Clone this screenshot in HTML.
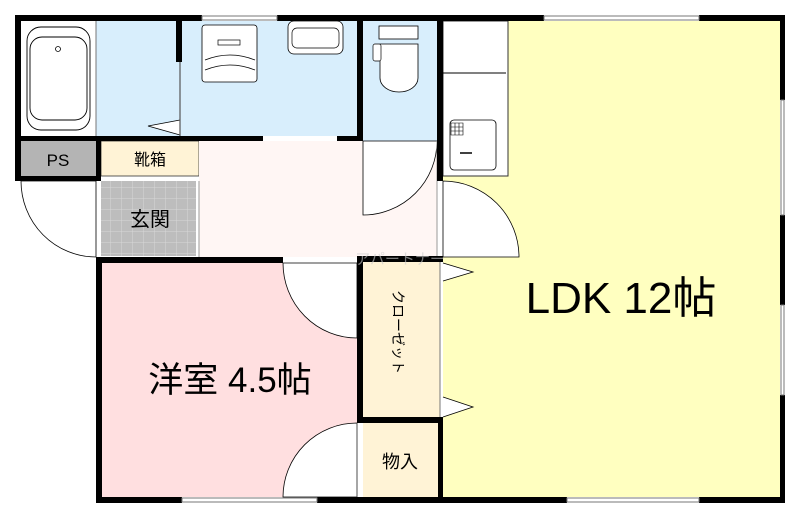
<!DOCTYPE html>
<html><head><meta charset="utf-8"><style>
html,body{margin:0;padding:0;background:#fff;width:800px;height:519px;overflow:hidden}
svg{display:block}
text{font-family:"Liberation Sans","Noto Sans CJK JP",sans-serif;fill:#000}
</style></head><body>
<svg width="800" height="519" viewBox="0 0 800 519" xmlns="http://www.w3.org/2000/svg">
<defs>
<pattern id="tile" width="11" height="11" patternUnits="userSpaceOnUse">
<rect width="11" height="11" fill="#bdbdbd"/><path d="M0 0H11M0 0V11" stroke="#d8d8d8" stroke-width="1"/>
</pattern>
</defs>
<rect x="21" y="21" width="75" height="115" fill="#fff"/>
<rect x="96" y="21" width="262" height="115" fill="#d8eefc"/>
<rect x="363" y="21" width="74" height="120" fill="#d8eefc"/>
<rect x="443" y="21" width="337" height="476" fill="#ffffc0"/>
<rect x="443" y="21" width="65" height="155" fill="#fff" stroke="#333" stroke-width="1"/>
<line x1="443" y1="73" x2="506" y2="73" stroke="#000" stroke-width="1"/>
<rect x="21" y="141" width="75" height="35" fill="#b4b4b4"/>
<rect x="101" y="141" width="98" height="35" fill="#fff3d6" stroke="#333" stroke-width="0.8"/>
<rect x="101" y="181" width="95" height="75" fill="url(#tile)"/>
<rect x="199" y="141" width="238" height="116" fill="#fff6f4"/>
<rect x="102" y="263" width="255" height="234" fill="#ffdfe0"/>
<rect x="363" y="262" width="77" height="155" fill="#fff3d6"/>
<rect x="363" y="423" width="75" height="74" fill="#fff3d6"/>
<path d="M21 181 A75 76 0 0 0 96 257 L96 181 Z" fill="#fff" stroke="#000" stroke-width="0.8"/>
<path d="M363 141 L363 215 A74 74 0 0 0 437 141 Z" fill="#fff" stroke="#000" stroke-width="0.8"/>
<path d="M443 181 A76 76 0 0 1 519 257 L443 257 Z" fill="#fff" stroke="#000" stroke-width="0.8"/>
<path d="M283 263 A74 75 0 0 0 357 338 L357 263 Z" fill="#fff" stroke="#000" stroke-width="0.8"/>
<path d="M283 497 A74 74 0 0 1 357 423 L357 497 Z" fill="#fff" stroke="#000" stroke-width="0.8"/>
<line x1="357" y1="423" x2="357" y2="497" stroke="#555" stroke-width="0.8"/>
<line x1="440" y1="262" x2="440" y2="417" stroke="#777" stroke-width="1"/>
<line x1="96" y1="136" x2="96" y2="21" stroke="#777" stroke-width="1"/>
<line x1="437" y1="141" x2="437" y2="257" stroke="#999" stroke-width="1"/>
<line x1="199" y1="181" x2="199" y2="257" stroke="#999" stroke-width="1"/>
<path d="M443 263 L473 272 L443 281" fill="#fff" stroke="#000" stroke-width="0.8"/>
<path d="M443 397 L473 407 L443 417" fill="#fff" stroke="#000" stroke-width="0.8"/>
<path d="M180 120 L148 126 L180 135" fill="#fff" stroke="#000" stroke-width="0.8"/>
<line x1="180" y1="62" x2="180" y2="136" stroke="#555" stroke-width="1.2"/>
<rect x="27" y="27" width="63" height="103" rx="14" fill="#fff" stroke="#000" stroke-width="0.9"/>
<rect x="30" y="37" width="57" height="83" rx="12" fill="none" stroke="#000" stroke-width="0.9"/>
<circle cx="58" cy="49" r="2.5" fill="none" stroke="#000" stroke-width="0.8"/>
<rect x="202" y="25" width="55" height="57" rx="3" fill="#fff" stroke="#000" stroke-width="0.8"/>
<path d="M205 60 Q230 50 255 60 M205 70 Q230 60 255 70" fill="none" stroke="#000" stroke-width="0.8"/>
<rect x="218" y="40" width="22" height="5" fill="none" stroke="#000" stroke-width="0.7"/>
<rect x="288" y="21" width="55" height="33" rx="6" fill="#fff" stroke="#000" stroke-width="0.8"/>
<rect x="292" y="28" width="47" height="20" rx="5" fill="none" stroke="#000" stroke-width="0.7"/>
<rect x="379" y="26" width="39" height="13" fill="#fff" stroke="#000" stroke-width="0.8"/>
<path d="M380 44 H418 V78 A19 14 0 0 1 380 78 Z" fill="#fff" stroke="#000" stroke-width="0.8"/>
<rect x="373" y="44" width="8" height="17" rx="2" fill="#fff" stroke="#000" stroke-width="0.7"/>
<rect x="450" y="120" width="46" height="50" rx="4" fill="#fff" stroke="#000" stroke-width="0.8"/>
<path d="M451 123 H463 V135 H451 Z M455 123 V135 M459 123 V135 M451 127 H463 M451 131 H463" fill="none" stroke="#000" stroke-width="0.6"/>
<line x1="460" y1="153" x2="472" y2="153" stroke="#000" stroke-width="1.5"/>
<g fill="#000">
<rect x="15" y="15" width="187" height="6"/>
<rect x="277" y="15" width="267" height="6"/>
<rect x="699" y="15" width="86" height="6"/>
<rect x="15" y="15" width="6" height="166"/>
<rect x="780" y="15" width="5" height="85"/>
<rect x="780" y="215" width="5" height="90"/>
<rect x="780" y="395" width="5" height="108"/>
<rect x="15" y="136" width="248" height="5"/>
<rect x="337" y="136" width="26" height="5"/>
<rect x="15" y="176" width="86" height="5"/>
<rect x="96" y="136" width="5" height="45"/>
<rect x="176" y="21" width="6" height="41"/>
<rect x="357" y="21" width="6" height="120"/>
<rect x="437" y="21" width="6" height="160"/>
<rect x="96" y="257" width="187" height="6"/>
<rect x="357" y="256" width="86" height="6"/>
<rect x="96" y="257" width="6" height="246"/>
<rect x="357" y="256" width="6" height="167"/>
<rect x="357" y="417" width="86" height="6"/>
<rect x="438" y="417" width="5" height="86"/>
<rect x="96" y="497" width="86" height="6"/>
<rect x="317" y="497" width="250" height="6"/>
<rect x="699" y="497" width="86" height="6"/>
</g>
<g fill="#fff" stroke="#777" stroke-width="1">
<rect x="202" y="16" width="75" height="4"/>
<rect x="544" y="16" width="155" height="4"/>
<rect x="781" y="100" width="3" height="115"/>
<rect x="781" y="305" width="3" height="90"/>
<rect x="182" y="498" width="135" height="4"/>
<rect x="567" y="498" width="132" height="4"/>
</g>
<text x="58" y="166" font-size="17" text-anchor="middle">PS</text>
<text x="150" y="165" font-size="16" text-anchor="middle">靴箱</text>
<text x="150" y="226" font-size="20" text-anchor="middle">玄関</text>
<text x="621" y="313" font-size="44" text-anchor="middle">LDK 12帖</text>
<text x="230" y="392" font-size="35" text-anchor="middle">洋室 4.5帖</text>
<text x="400" y="468" font-size="18" text-anchor="middle">物入</text>
<text transform="translate(393,290) rotate(90)" font-size="14">クローゼット</text>
<text x="400" y="264" font-size="15" text-anchor="middle" style="fill:#ccc;opacity:.6">アパートナー</text>
</svg>
</body></html>
